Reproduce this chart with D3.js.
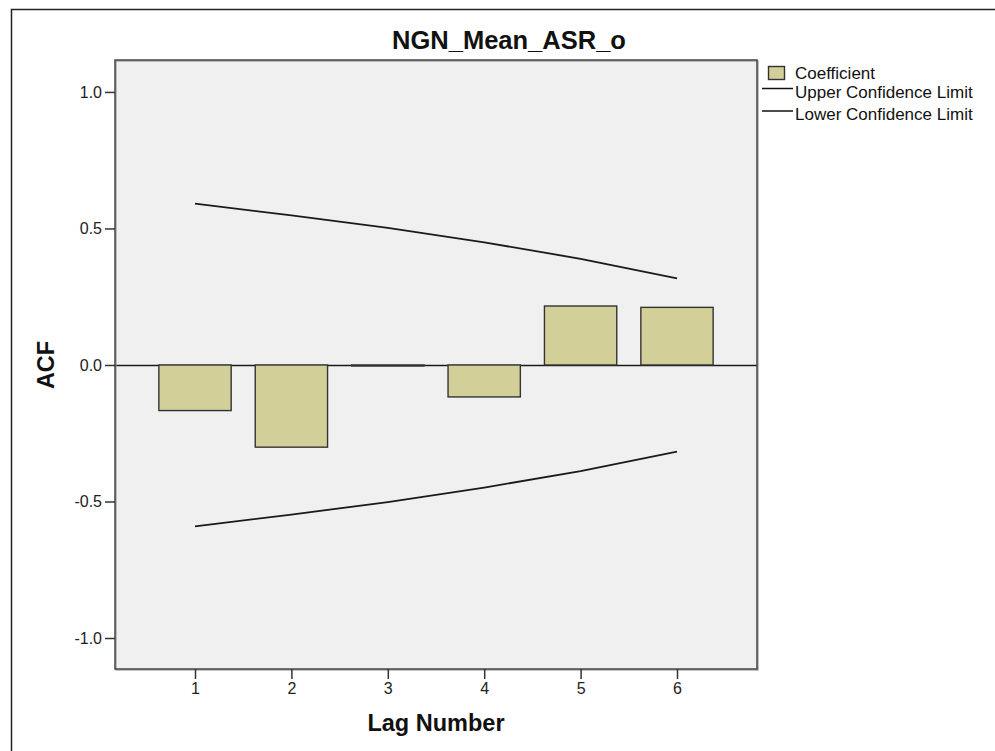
<!DOCTYPE html>
<html><head><meta charset="utf-8">
<script src="https://cdn.jsdelivr.net/npm/d3@7"></script>
<style>
html,body{margin:0;padding:0;background:#fff;}
svg{display:block;font-family:"Liberation Sans",Arial,sans-serif;}
</style></head>
<body>
<script>
const title = "NGN_Mean_ASR_o";
const lags = [1, 2, 3, 4, 5, 6];
const coefficient = [-0.167, -0.301, -0.002, -0.117, 0.216, 0.211];
const upperLimit = [0.591, 0.548, 0.502, 0.449, 0.389, 0.317];
const lowerLimit = [-0.591, -0.548, -0.502, -0.449, -0.389, -0.317];
const yTicks = [-1.0, -0.5, 0.0, 0.5, 1.0];
const legendLabels = ["Coefficient", "Upper Confidence Limit", "Lower Confidence Limit"];

const W = 995, H = 751;
const svg = d3.select("body").append("svg").attr("width", W).attr("height", H);

// outer frame
svg.append("rect").attr("x", 11.5).attr("y", 9.5).attr("width", 1100).attr("height", 900)
  .attr("fill", "#fff").attr("stroke", "#222").attr("stroke-width", 1.5);

const L = 115, R = 757, T = 60, B = 669;
const x = d3.scaleLinear().domain([0.17, 6.83]).range([L, R]);
const y = d3.scaleLinear().domain([-1.1135, 1.117]).range([B, T]);

// plot background
svg.append("rect").attr("x", L).attr("y", T).attr("width", R - L).attr("height", B - T)
  .attr("fill", "#f0f0f0");

const barW = x(1.75) - x(1);

// zero line
const y0 = Math.round(y(0)) + 0.5;
svg.append("line").attr("x1", L).attr("x2", R).attr("y1", y0).attr("y2", y0)
  .attr("stroke", "#1a1a1a").attr("stroke-width", 1.5);

// bars
svg.append("g").selectAll("rect").data(lags).join("rect")
  .attr("x", (d) => x(d) - barW / 2)
  .attr("width", barW)
  .attr("y", (d, i) => y(Math.max(0, coefficient[i])))
  .attr("height", (d, i) => Math.max(1, Math.abs(y(coefficient[i]) - y(0))))
  .attr("fill", "#d3cf98").attr("stroke", "#333").attr("stroke-width", 1.4);

// confidence lines
const line = d3.line().x((d) => x(d[0])).y((d) => y(d[1]));
svg.append("path").datum(lags.map((l, i) => [l, upperLimit[i]])).attr("d", line)
  .attr("fill", "none").attr("stroke", "#1a1a1a").attr("stroke-width", 1.8);
svg.append("path").datum(lags.map((l, i) => [l, lowerLimit[i]])).attr("d", line)
  .attr("fill", "none").attr("stroke", "#1a1a1a").attr("stroke-width", 1.8);

// plot border
svg.append("rect").attr("x", L + 1).attr("y", T + 1).attr("width", R - L).attr("height", B - T)
  .attr("fill", "none").attr("stroke", "#999").attr("stroke-width", 1.2);
svg.append("rect").attr("x", L).attr("y", T).attr("width", R - L).attr("height", B - T)
  .attr("fill", "none").attr("stroke", "#444").attr("stroke-width", 1.5);

const fmt = (v) => { const s = Math.abs(v).toFixed(1); return v < 0 ? "-" + s : s; };

// y axis
const yAxis = d3.axisLeft(y).tickValues(yTicks).tickFormat(fmt).tickSize(10).tickPadding(3);
const gy = svg.append("g").attr("transform", `translate(${L},0)`).call(yAxis)
  .attr("font-size", 16).attr("font-family", "'Liberation Sans', Arial, sans-serif");
gy.select(".domain").remove();
gy.selectAll(".tick line").attr("stroke", "#333").attr("stroke-width", 1.5);
gy.selectAll(".tick text").attr("fill", "#222");

// x axis
const xAxis = d3.axisBottom(x).tickValues(lags).tickFormat(d3.format("d")).tickSize(10).tickPadding(4);
const gx = svg.append("g").attr("transform", `translate(0,${B})`).call(xAxis)
  .attr("font-size", 16).attr("font-family", "'Liberation Sans', Arial, sans-serif");
gx.select(".domain").remove();
gx.selectAll(".tick line").attr("stroke", "#333").attr("stroke-width", 1.5);
gx.selectAll(".tick text").attr("fill", "#222");

// title
svg.append("text").attr("x", 509).attr("y", 49).attr("text-anchor", "middle")
  .attr("font-size", 25.5).attr("font-weight", "bold").attr("fill", "#111").text(title);

// axis titles
svg.append("text").attr("x", 436).attr("y", 731).attr("text-anchor", "middle")
  .attr("font-size", 23.5).attr("font-weight", "bold").attr("fill", "#111").text("Lag Number");
svg.append("text").attr("transform", `translate(54,${y(0)}) rotate(-90)`).attr("text-anchor", "middle")
  .attr("font-size", 23.5).attr("font-weight", "bold").attr("fill", "#111").text("ACF");

// legend
const lg = svg.append("g");
lg.append("rect").attr("x", 768.5).attr("y", 66.5).attr("width", 16).attr("height", 13)
  .attr("fill", "#d3cf98").attr("stroke", "#333").attr("stroke-width", 1.4);
lg.append("text").attr("x", 795).attr("y", 79).attr("font-size", 17).attr("fill", "#111").text(legendLabels[0]);
[1, 2].forEach((k, i) => {
  const yy = 88.5 + i * 22.5;
  lg.append("line").attr("x1", 762).attr("x2", 793).attr("y1", yy).attr("y2", yy)
    .attr("stroke", "#111").attr("stroke-width", 1.5);
  lg.append("text").attr("x", 795).attr("y", yy + 9).attr("font-size", 17).attr("fill", "#111").text(legendLabels[k]);
});
</script>
</body></html>
